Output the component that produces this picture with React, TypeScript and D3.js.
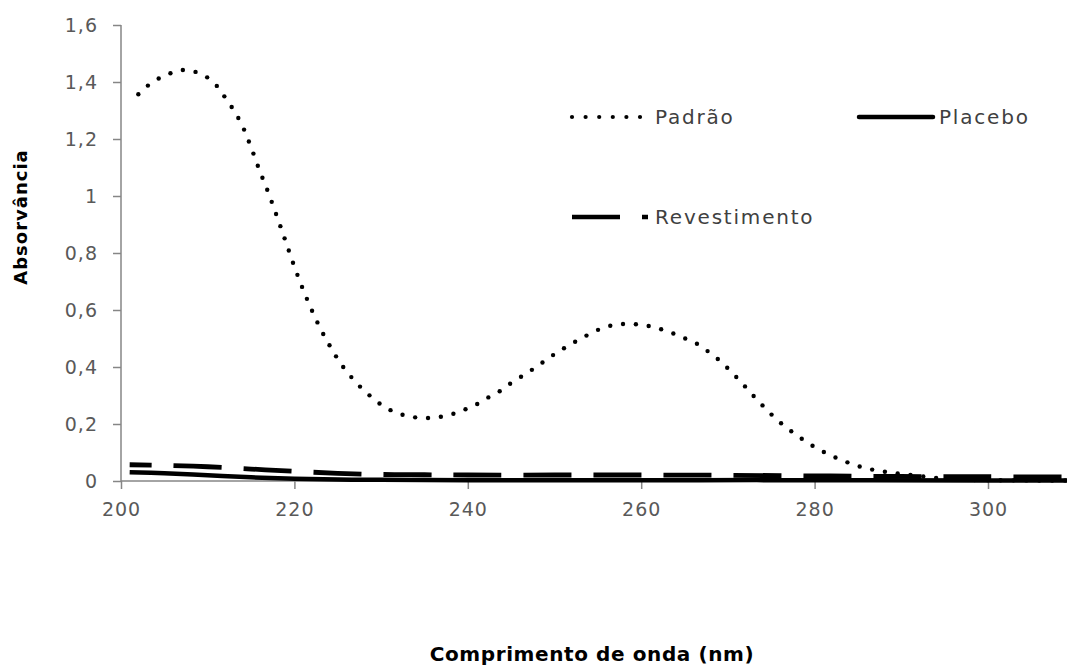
import React, { useRef, useEffect } from 'react';
import * as d3 from 'd3';

// Padrão (dotted)
const padraoNm = [202, 203, 204, 205, 206, 207, 208, 209, 210, 211, 212, 213, 214, 215, 216, 217, 218, 219, 220,
  221, 222, 223, 224, 225, 226, 227, 228, 229, 230, 231, 232, 233, 234, 235, 236, 237, 238, 239, 240,
  241, 242, 243, 244, 245, 246, 247, 248, 249, 250, 251, 252, 253, 254, 255, 256, 257, 258, 259, 260,
  261, 262, 263, 264, 265, 266, 267, 268, 269, 270, 271, 272, 273, 274, 275, 276, 277, 278, 279, 280,
  281, 282, 283, 284, 285, 286, 287, 288, 289, 290, 292, 294, 296, 298, 300, 305, 310];
const padraoAbs = [1.357, 1.385, 1.406, 1.422, 1.434, 1.442, 1.440, 1.431, 1.415, 1.388, 1.346, 1.301, 1.246, 1.171, 1.088, 1.011, 0.927, 0.840, 0.752,
  0.672, 0.600, 0.535, 0.479, 0.428, 0.385, 0.350, 0.318, 0.292, 0.268, 0.250, 0.237, 0.228, 0.223, 0.221, 0.222, 0.226, 0.233, 0.243, 0.255,
  0.269, 0.287, 0.304, 0.321, 0.344, 0.363, 0.382, 0.403, 0.424, 0.445, 0.464, 0.482, 0.499, 0.515, 0.530, 0.541, 0.548, 0.551, 0.551, 0.548,
  0.543, 0.535, 0.526, 0.514, 0.501, 0.489, 0.470, 0.448, 0.424, 0.395, 0.364, 0.331, 0.297, 0.265, 0.234, 0.206, 0.182, 0.159, 0.139, 0.119,
  0.103, 0.088, 0.075, 0.063, 0.053, 0.044, 0.038, 0.033, 0.029, 0.025, 0.018, 0.011, 0.007, 0.004, 0.003, 0.002, 0.002];

// Revestimento (long dash)
const revestNm = [201, 205, 210, 215, 220, 225, 230, 235, 240, 250, 260, 270, 280, 290, 300, 310];
const revestAbs = [0.057, 0.055, 0.050, 0.042, 0.034, 0.027, 0.023, 0.022, 0.021, 0.021, 0.021, 0.020, 0.018, 0.016, 0.015, 0.014];

// Placebo (solid)
const placeboNm = [201, 205, 210, 215, 220, 225, 230, 240, 260, 280, 300, 310];
const placeboAbs = [0.031, 0.027, 0.020, 0.013, 0.008, 0.005, 0.004, 0.003, 0.003, 0.003, 0.002, 0.002];

const xTicks = [200, 220, 240, 260, 280, 300];
const yTicks = [0, 0.2, 0.4, 0.6, 0.8, 1, 1.2, 1.4, 1.6];

const W = 1067;
const H = 668;
const FONT = '"DejaVu Sans", sans-serif';

const App = () => {
  const svgRef = useRef<SVGSVGElement>(null);

  useEffect(() => {
    const svg = d3.select(svgRef.current);
    svg.selectAll('*').remove();

    const x = d3.scaleLinear().domain([200, 310]).range([121, 1074.7]);
    const y = d3.scaleLinear().domain([0, 1.6]).range([481, 25]);

    const fmt = (d: number) => String(d).replace('.', ',');

    // eixos
    const yAxis = svg.append('g')
      .attr('transform', 'translate(121,0)')
      .call(d3.axisLeft(y).tickValues(yTicks).tickSize(8).tickPadding(15).tickFormat(fmt as any));
    const xAxis = svg.append('g')
      .attr('transform', 'translate(0,481)')
      .call(d3.axisBottom(x).tickValues(xTicks).tickSize(8).tickPadding(14).tickFormat(fmt as any));

    [yAxis, xAxis].forEach(g => {
      g.select('.domain').attr('stroke', '#868686').attr('stroke-width', 1.5);
      g.selectAll('.tick line').attr('stroke', '#868686').attr('stroke-width', 1.5);
      g.selectAll('.tick text')
        .attr('fill', '#595959')
        .style('font-family', FONT)
        .style('font-size', '19px')
        .style('letter-spacing', '1px');
    });
    yAxis.select('.domain').attr('d', `M0,${y(1.6)}V${y(0)}`);
    xAxis.select('.domain').attr('d', `M${x(200)},0H${W}`);

    const line = d3.line<[number, number]>()
      .x(d => x(d[0]))
      .y(d => y(d[1]))
      .curve(d3.curveCatmullRom);

    const zip = (a: number[], b: number[]) => a.map((v, i) => [v, b[i]] as [number, number]);

    // Padrão - pontilhado: dots placed along the curve
    const guide = svg.append('path')
      .datum(zip(padraoNm, padraoAbs))
      .attr('fill', 'none')
      .attr('stroke', 'none')
      .attr('d', line);
    const node = guide.node() as SVGPathElement;
    const total = node.getTotalLength();
    const step = 12.9;
    const dots = d3.range(0, total, step).map(l => node.getPointAtLength(l));
    svg.append('g')
      .selectAll('circle')
      .data(dots)
      .enter()
      .append('circle')
      .attr('cx', d => d.x)
      .attr('cy', d => d.y)
      .attr('r', 2.2)
      .attr('fill', '#000');

    // Placebo - sólido
    svg.append('path')
      .datum(zip(placeboNm, placeboAbs))
      .attr('fill', 'none')
      .attr('stroke', '#000')
      .attr('stroke-width', 4.5)
      .attr('d', line);

    // Revestimento - tracejado longo
    svg.append('path')
      .datum(zip(revestNm, revestAbs))
      .attr('fill', 'none')
      .attr('stroke', '#000')
      .attr('stroke-width', 4.8)
      .attr('stroke-dasharray', '48 22')
      .attr('stroke-dashoffset', 26)
      .attr('d', line);

    // legenda
    const legend = svg.append('g');
    const legendItems = [
      { name: 'Padrão', x1: 572, x2: 640, tx: 655, ty: 117, dash: null, dotted: true, w: 4.2 },
      { name: 'Placebo', x1: 859, x2: 933, tx: 939, ty: 117, dash: null, dotted: false, w: 4.5 },
      { name: 'Revestimento', x1: 572, x2: 648, tx: 655, ty: 217, dash: '48 22', dotted: false, w: 4.5 },
    ];
    legendItems.forEach(it => {
      if (it.dotted) {
        legend.selectAll(null)
          .data(d3.range(it.x1, it.x2 + 1, 13.6))
          .enter()
          .append('circle')
          .attr('cx', d => d)
          .attr('cy', it.ty)
          .attr('r', 2.1)
          .attr('fill', '#000');
      } else {
        legend.append('line')
          .attr('x1', it.x1).attr('x2', it.x2)
          .attr('y1', it.ty).attr('y2', it.ty)
          .attr('stroke', '#000')
          .attr('stroke-width', it.w)
          .attr('stroke-linecap', it.dash ? 'butt' : 'round')
          .attr('stroke-dasharray', it.dash);
      }
      legend.append('text')
        .attr('x', it.tx)
        .attr('y', it.ty)
        .attr('dy', '0.35em')
        .attr('fill', '#404040')
        .style('font-family', FONT)
        .style('font-size', '20px')
        .style('letter-spacing', '1.8px')
        .text(it.name);
    });

    // títulos dos eixos
    svg.append('text')
      .attr('x', 592)
      .attr('y', 661)
      .attr('text-anchor', 'middle')
      .attr('fill', '#000')
      .style('font-family', FONT)
      .style('font-weight', 'bold')
      .style('font-size', '20px')
      .style('letter-spacing', '0.6px')
      .text('Comprimento de onda (nm)');

    svg.append('text')
      .attr('transform', 'translate(27,217) rotate(-90)')
      .attr('text-anchor', 'middle')
      .attr('fill', '#000')
      .style('font-family', FONT)
      .style('font-weight', 'bold')
      .style('font-size', '18px')
      .style('letter-spacing', '1px')
      .text('Absorvância');
  }, []);

  return (
    <svg
      ref={svgRef}
      width={W}
      height={H}
      style={{ position: 'fixed', left: 0, top: 0, background: '#fff', display: 'block' }}
    />
  );
};

export default App;
